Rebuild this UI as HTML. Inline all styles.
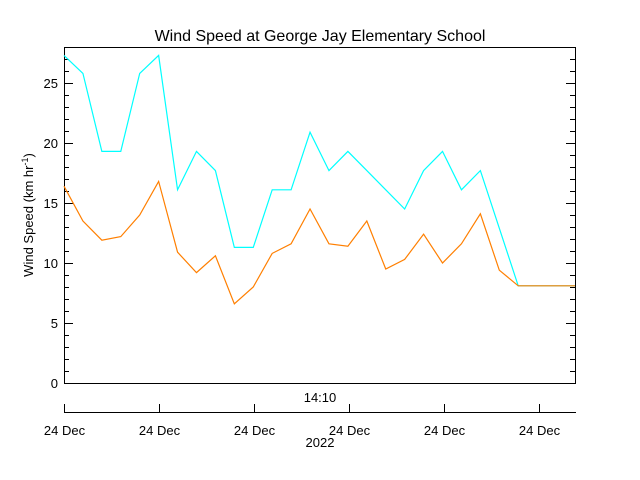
<!DOCTYPE html>
<html><head><meta charset="utf-8"><style>
body{margin:0;background:#fff;}
svg{display:block;font-family:"Liberation Sans",sans-serif;}
</style></head><body>
<svg id="chart" width="640" height="480">
<text x="320" y="41" text-anchor="middle" font-size="16">Wind Speed at George Jay Elementary School</text>
<rect x="64.5" y="47.5" width="511" height="336" fill="none" stroke="#000"/>
<g id="yticks"></g>
<g id="series"></g>
<text transform="translate(33,215) rotate(-90)" text-anchor="middle" font-size="13">Wind Speed (km hr<tspan dy="-5" font-size="9">-1</tspan><tspan dy="5">)</tspan></text>
<line x1="64" y1="412.5" x2="576" y2="412.5" stroke="#000"/>
<g id="xticks"></g>
<text x="320" y="402" text-anchor="middle" font-size="13">14:10</text>
<text x="320" y="447" text-anchor="middle" font-size="13">2022</text>
</svg>
<script>
const yTicks=[0,5,10,15,20,25];
const xTickLabels=["24 Dec","24 Dec","24 Dec","24 Dec","24 Dec","24 Dec"];
const gust=[27.3,25.8,19.3,19.3,25.8,27.3,16.1,19.3,17.7,11.3,11.3,16.1,16.1,20.9,17.7,19.3,17.7,16.1,14.5,17.7,19.3,16.1,17.7,12.9,8.1,8.1,8.1,8.1];
const avg=[16.4,13.5,11.9,12.2,14.0,16.8,10.9,9.2,10.6,6.6,8.0,10.8,11.6,14.5,11.6,11.4,13.5,9.5,10.3,12.4,10.0,11.6,14.1,9.4,8.1,8.1,8.1,8.1];
const NS="http://www.w3.org/2000/svg";
const yS=v=>383-v*12;
const xS=i=>64+i*(511/27);
const yg=document.getElementById('yticks');
for(let v=0;v<=28;v++){
  const len=v%5===0?9:5;
  for(const side of [0,1]){
    const l=document.createElementNS(NS,'line');
    const x0=side?575:64;
    l.setAttribute('x1',x0);l.setAttribute('x2',side?x0-len:x0+len);
    l.setAttribute('y1',yS(v)+.5);l.setAttribute('y2',yS(v)+.5);
    l.setAttribute('stroke','#000');
    
    
    yg.appendChild(l);
  }
}
yTicks.forEach(v=>{
  const t=document.createElementNS(NS,'text');
  t.setAttribute('x',58);t.setAttribute('y',yS(v)+5);
  t.setAttribute('text-anchor','end');t.setAttribute('font-size','13');
  t.textContent=v;
  
  
  yg.appendChild(t);
});
const xg=document.getElementById('xticks');
xTickLabels.forEach((s,i)=>{
  const x=64.5+i*95;
  const l=document.createElementNS(NS,'line');
  l.setAttribute('x1',x);l.setAttribute('x2',x);l.setAttribute('y1',404);l.setAttribute('y2',412);
  l.setAttribute('stroke','#000');
  
  
  xg.appendChild(l);
  const t=document.createElementNS(NS,'text');
  t.setAttribute('x',x);t.setAttribute('y',435);
  t.setAttribute('text-anchor','middle');t.setAttribute('font-size','13');
  t.textContent=s;
  
  
  xg.appendChild(t);
});
const sg=document.getElementById('series');
function line(data,color,name){
  const p=document.createElementNS(NS,'polyline');
  p.setAttribute('points',data.map((v,i)=>xS(i)+','+yS(v)).join(' '));
  p.setAttribute('fill','none');p.setAttribute('stroke',color);p.setAttribute('stroke-width','1.2');
  
  
  sg.appendChild(p);
}
line(gust,'#00ffff','gust-speed-line');
line(avg,'#ff7f00','average-speed-line');
</script>
</body></html>
